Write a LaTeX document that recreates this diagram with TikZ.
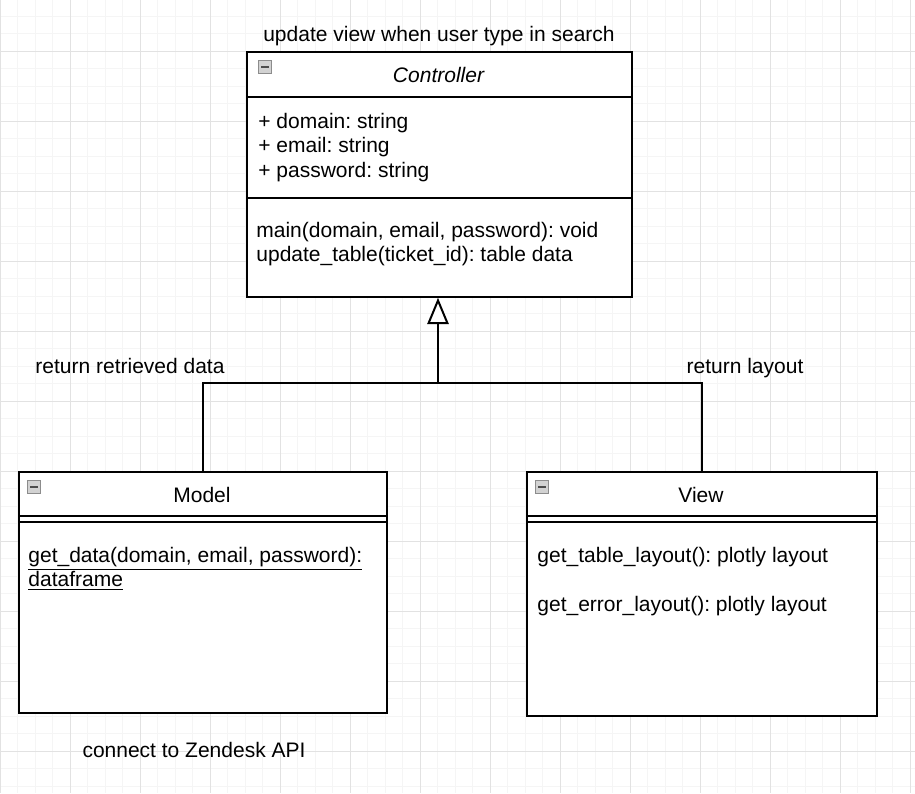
\documentclass[tikz,border=0pt]{standalone}
\usepackage{fontspec}
\setmainfont{Liberation Sans}
\usetikzlibrary{arrows.meta}
\definecolor{gridminor}{RGB}{245,245,245}
\definecolor{gridmajor}{RGB}{226,226,226}
\frenchspacing

\begin{document}
\begin{tikzpicture}[x=0.5pt, y=-0.5pt, font=\fontsize{10.5}{12.25}\selectfont,
  box/.style={draw, line width=0.9pt, fill=white, inner sep=0pt, anchor=north west},
  txt/.style={anchor=base west, inner sep=0pt},
  ctxt/.style={anchor=base, inner sep=0pt},
  icon/.style={draw=gray!90, fill=gray!35, minimum size=6.5pt, inner sep=0pt, anchor=north west},
  edge/.style={line width=0.9pt}]
  \useasboundingbox (0,0) rectangle (915,793);
  \fill[white] (0,0) rectangle (915,793);
  %% Grid
  \foreach \x in {0,17.5,...,915} \draw[gridminor, line width=0.5pt] (\x,0) -- (\x,793);
  \foreach \y in {-1.5,16,...,793} \draw[gridminor, line width=0.5pt] (0,\y) -- (915,\y);
  \foreach \x in {0,70,...,910} \draw[gridmajor, line width=0.5pt] (\x,0) -- (\x,793);
  \foreach \y in {51,121,...,793} \draw[gridmajor, line width=0.5pt] (0,\y) -- (915,\y);

  %% Controller class
  \node[box, minimum width=192.5pt, minimum height=122.5pt] (ctrl) at (246,51) {};
  \draw[edge] ([yshift=-23pt]ctrl.north west) -- ([yshift=-23pt]ctrl.north east);
  \draw[edge] ([yshift=-73.5pt]ctrl.north west) -- ([yshift=-73.5pt]ctrl.north east);
  \node[icon] (ctrlicon) at (258,60) {};
  \draw[black!70, line width=1pt] ([xshift=1.5pt]ctrlicon.west) -- ([xshift=-1.5pt]ctrlicon.east);
  \node[ctxt] (ctrltitle) at (438.5,82) {\itshape Controller};
  \node[txt] (attr1) at (258,128) {+ domain: string};
  \node[txt] (attr2) at (258,152.5) {+ email: string};
  \node[txt] (attr3) at (258,177) {+ password: string};
  \node[txt] (meth1) at (256,237) {main(domain, email, password): void};
  \node[txt] (meth2) at (256,261.5) {update\_table(ticket\_id): table data};
  \node[ctxt] (note) at (439,41) {update view when user type in search};

  %% Model class
  \node[box, minimum width=184pt, minimum height=120.5pt] (model) at (18,471) {};
  \draw[edge] ([yshift=-22.5pt]model.north west) -- ([yshift=-22.5pt]model.north east);
  \draw[edge] ([yshift=-25.5pt]model.north west) -- ([yshift=-25.5pt]model.north east);
  \node[icon] (modelicon) at (27,480) {};
  \draw[black!70, line width=1pt] ([xshift=1.5pt]modelicon.west) -- ([xshift=-1.5pt]modelicon.east);
  \node[ctxt] (modeltitle) at (202,502) {Model};
  \node[txt] (getdata) at (28,562) {\underline{get\_data(domain, email, password):}};
  \node[txt] (getdata2) at (28,586.5) {\underline{dataframe}};
  \node[ctxt] (api) at (194,757) {connect to Zendesk API};

  %% View class
  \node[box, minimum width=175pt, minimum height=122pt] (view) at (526,471) {};
  \draw[edge] ([yshift=-22.5pt]view.north west) -- ([yshift=-22.5pt]view.north east);
  \draw[edge] ([yshift=-25.5pt]view.north west) -- ([yshift=-25.5pt]view.north east);
  \node[icon] (viewicon) at (535,480) {};
  \draw[black!70, line width=1pt] ([xshift=1.5pt]viewicon.west) -- ([xshift=-1.5pt]viewicon.east);
  \node[ctxt] (viewtitle) at (701,502) {View};
  \node[txt] (tablelayout) at (537,562) {get\_table\_layout(): plotly layout};
  \node[txt] (errorlayout) at (537,611) {get\_error\_layout(): plotly layout};

  %% Generalisation
  \coordinate (joint) at (438,383);
  \draw[edge] (model.north) |- (joint);
  \draw[edge] (view.north) |- (joint);
  \draw[edge, -{Triangle[open, length=10.5pt, width=8.5pt, line width=1pt, fill=white, scale=1.25]}] (joint) -- (ctrl.south -| joint);
  \node[ctxt] (retdata) at (130,373) {return retrieved data};
  \node[ctxt] (retlayout) at (745,373) {return layout};
\end{tikzpicture}
\end{document}
